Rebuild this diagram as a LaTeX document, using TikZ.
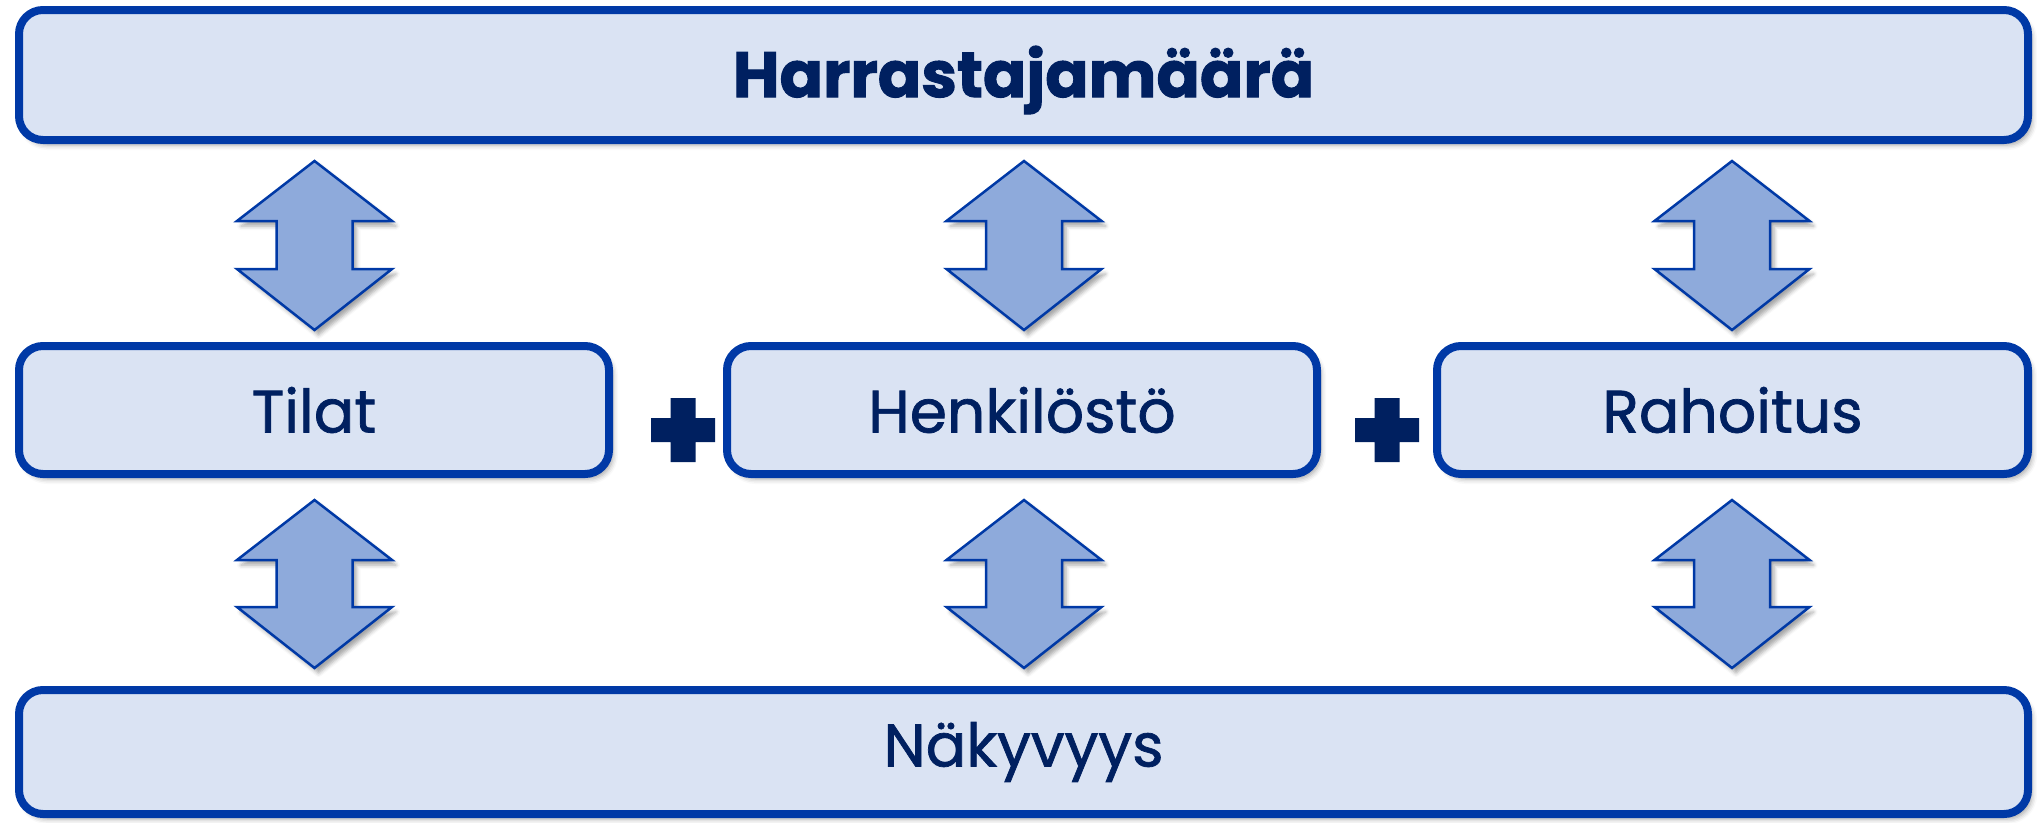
\documentclass[tikz,border=0pt]{standalone}
\usepackage{fontspec}
\setmainfont{Poppins}
\newfontfamily\medfont{Poppins}[FakeBold=1.2]
\newfontfamily\heavyfont{Poppins Bold}[FakeBold=1.5]
\usetikzlibrary{shadows.blur}
\definecolor{boxfill}{HTML}{DAE3F3}
\definecolor{boxline}{HTML}{0039A6}
\definecolor{arrfill}{HTML}{8EAADB}
\definecolor{txt}{HTML}{002060}
\tikzset{
  mybox/.style={draw=boxline, fill=boxfill, line width=8pt, rounded corners=24pt,
    text=txt, font=\medfont\fontsize{60}{70}\selectfont, inner sep=0pt,
    blur shadow={shadow xshift=4pt, shadow yshift=-5pt, shadow blur radius=5pt, shadow opacity=35}},
  myarrow/.style={draw=boxline, fill=arrfill, line width=2.5pt, line join=miter,
    blur shadow={shadow xshift=4pt, shadow yshift=-5pt, shadow blur radius=4pt, shadow opacity=35}},
  myplus/.style={fill=txt, draw=none}
}
\begin{document}
\begin{tikzpicture}[x=1pt,y=-1pt]
\useasboundingbox (0,0) rectangle (2037,822);
\node[mybox, minimum width=2009pt, minimum height=130pt] (top) at (1023.5,75) {};
\node[text=txt, font=\heavyfont\fontsize{64}{70}\selectfont, inner sep=0pt] (toptext) at (1023.5,80) {Harrastajamäärä};
\node[mybox, minimum width=590pt, minimum height=128pt] (tilat) at (314,410) {Tilat};
\node[mybox, minimum width=590pt, minimum height=128pt] (henk) at (1022,410) {Henkilöstö};
\node[mybox, minimum width=591pt, minimum height=128pt] (raha) at (1732.5,410) {Rahoitus};
\node[mybox, minimum width=2009pt, minimum height=124pt] (nak) at (1023.5,752) {Näkyvyys};
% double arrows
\foreach \cx in {314.5,1024,1732}{
  \foreach \t/\b in {161/330,500/668}{
    \path[myarrow] (\cx,\t) -- ++(77.5,60) -- ++(-39.5,0) -- (\cx+38,\b-61) -- ++(39.5,0)
      -- (\cx,\b) -- (\cx-77.5,\b-61) -- ++(39.5,0) -- (\cx-38,\t+60) -- ++(-39.5,0) -- cycle;
  }
}
% plus signs
\foreach \px in {683,1387}{
  \path[myplus] (\px-12.5,398) -- (\px+12.5,398) -- (\px+12.5,418) -- (\px+32,418)
    -- (\px+32,442) -- (\px+12.5,442) -- (\px+12.5,462) -- (\px-12.5,462) -- (\px-12.5,442)
    -- (\px-32,442) -- (\px-32,418) -- (\px-12.5,418) -- cycle;
}
\end{tikzpicture}
\end{document}
